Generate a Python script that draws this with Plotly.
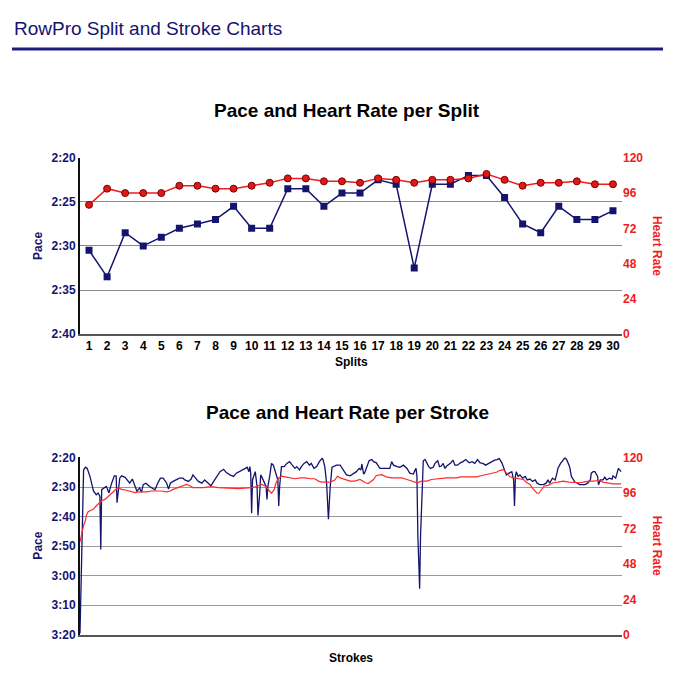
import plotly.graph_objects as go

W, H = 687, 677

# ---------------- data ----------------
splits = list(range(1, 31))
split_pace = [150.5, 153.5, 148.5, 150, 149, 148, 147.5, 147, 145.5, 148,
              148, 143.5, 143.5, 145.5, 144, 144, 142.5, 143, 152.5, 143,
              143, 142, 142, 144.5, 147.5, 148.5, 145.5, 147, 147, 146]
split_hr = [88, 99, 96, 96, 96, 101, 101, 99, 99, 101,
            103, 106, 106, 104, 104, 103, 106, 105, 103, 105,
            105, 106, 109, 105, 101, 103, 103, 104, 102, 102]

stroke_no = [1, 3, 5, 7, 9, 12, 14, 16, 19, 21, 23, 24, 25, 28, 30, 31, 33, 36, 39, 41,
             42, 45, 47, 51, 53, 56, 59, 62, 64, 67, 69, 71, 74, 78, 81, 84, 87, 90, 93, 97,
             99, 101, 104, 108, 111, 115, 117, 121, 124, 126, 129, 132, 136, 139, 143, 146, 149, 150, 153, 156,
             160, 163, 167, 171, 174, 178, 181, 184, 186, 188, 189, 190, 191, 192, 194, 195, 197, 198, 200, 201,
             202, 205, 207, 208, 209, 211, 213, 215, 218, 220, 221, 222, 224, 227, 230, 233, 236, 239, 241, 244,
             246, 249, 252, 255, 257, 260, 263, 266, 269, 270, 272, 274, 276, 278, 280, 282, 285, 289, 292, 296,
             300, 304, 307, 310, 312, 313, 315, 316, 318, 321, 324, 326, 329, 333, 337, 340, 344, 346, 348, 352,
             355, 359, 363, 366, 370, 372, 373, 374, 375, 377, 378, 380, 381, 383, 385, 387, 389, 392, 394, 397,
             399, 401, 403, 405, 407, 411, 414, 416, 419, 422, 425, 428, 432, 435, 438, 441, 444, 447, 450, 453,
             457, 460, 463, 465, 468, 470, 473, 476, 479, 481, 482, 483, 484, 486, 488, 491, 494, 496, 499, 502,
             505, 507, 510, 514, 517, 519, 521, 524, 527, 529, 530, 533, 536, 538, 540, 543, 545, 547, 549, 552,
             554, 557, 560, 563, 566, 567, 569, 571, 574, 575, 577, 580, 582, 584, 587, 590, 591, 594, 596, 597,
             600]
stroke_pace = [199.5, 166.4, 144.2, 143.3, 143.7, 146.4, 148.7, 151.4, 152.6, 152.0, 153.1, 171.1, 150.9, 150.3, 149.8, 150.3, 152.0, 148.7, 146.2, 146.2,
               155.3, 147.0, 146.2, 146.7, 147.6, 148.7, 147.3, 149.8, 151.4, 150.3, 151.8, 149.2, 148.7, 149.8, 150.3, 150.9, 148.7, 147.0, 147.0, 148.7,
               150.7, 148.7, 148.1, 147.6, 147.0, 147.0, 147.6, 148.1, 147.3, 145.9, 147.0, 148.1, 148.7, 147.6, 148.7, 149.6, 148.1, 147.6, 145.9, 144.8,
               144.0, 145.1, 145.9, 146.4, 145.3, 144.8, 144.2, 143.7, 143.3, 144.8, 143.1, 145.3, 158.9, 147.6, 145.6, 144.8, 149.8, 159.6, 152.0, 145.9,
               146.4, 148.7, 149.8, 154.2, 149.8, 146.4, 142.0, 142.6, 145.3, 147.6, 156.4, 149.8, 143.1, 143.1, 142.0, 141.4, 142.6, 143.7, 143.1, 144.2,
               143.1, 142.0, 141.4, 142.6, 142.0, 143.7, 143.1, 141.4, 140.3, 140.7, 143.1, 148.7, 160.9, 149.8, 143.3, 143.1, 142.6, 142.6, 144.2, 145.9,
               146.2, 145.3, 144.8, 143.7, 144.2, 142.2, 145.6, 145.3, 143.7, 141.1, 140.7, 141.4, 141.8, 143.7, 143.7, 143.7, 143.7, 141.4, 142.6, 143.1,
               143.3, 142.6, 143.7, 145.3, 145.6, 144.2, 143.7, 146.4, 166.4, 184.4, 166.4, 149.8, 141.1, 140.7, 142.0, 143.1, 143.7, 143.3, 142.0, 141.1,
               143.1, 142.9, 142.0, 143.7, 142.9, 142.0, 140.9, 142.6, 142.6, 141.8, 141.4, 140.7, 141.8, 141.4, 142.0, 140.7, 141.8, 142.0, 142.6, 142.0,
               141.4, 140.9, 140.7, 140.3, 141.8, 143.7, 145.9, 145.3, 144.8, 147.6, 156.4, 146.4, 144.8, 146.4, 145.9, 147.0, 146.4, 147.6, 147.3, 148.1,
               147.6, 148.7, 149.2, 149.2, 148.7, 147.6, 148.7, 147.0, 147.6, 145.3, 143.7, 142.0, 140.9, 140.0, 140.9, 143.1, 146.4, 147.6, 148.4, 148.7,
               149.2, 149.2, 149.2, 148.7, 147.6, 145.3, 144.8, 144.8, 146.4, 149.2, 147.6, 147.6, 146.7, 147.6, 147.0, 147.3, 146.2, 147.0, 144.2, 143.7,
               144.8]

hr_stroke_no = [1, 3, 5, 7, 8, 10, 13, 16, 19, 21, 25, 29, 32, 36, 40, 43, 47, 51, 55, 58,
                62, 66, 69, 75, 80, 86, 91, 97, 101, 104, 110, 115, 119, 123, 126, 132, 138, 143, 149, 154,
                160, 165, 171, 176, 182, 187, 191, 195, 198, 202, 206, 209, 213, 216, 218, 221, 224, 228, 233, 239,
                245, 250, 256, 261, 265, 269, 272, 278, 283, 286, 289, 294, 300, 305, 311, 317, 320, 326, 329, 335,
                340, 346, 352, 357, 363, 368, 374, 379, 385, 390, 396, 401, 407, 412, 418, 423, 429, 435, 440, 446,
                451, 457, 462, 466, 470, 473, 477, 481, 486, 492, 495, 499, 503, 507, 509, 512, 515, 519, 525, 530,
                536, 542, 547, 553, 558, 564, 569, 575, 580, 586, 591, 600]
stroke_hr = [62.9, 69.6, 74.0, 77.3, 80.7, 83.3, 84.0, 85.1, 87.3, 88.4, 90.7, 91.8, 93.6, 96.2, 98.0, 99.6, 98.4, 98.0, 97.3, 96.7,
             96.2, 96.7, 96.7, 96.7, 97.3, 97.3, 97.3, 96.7, 97.3, 98.4, 99.6, 100.7, 101.8, 100.7, 99.6, 99.6, 99.6, 100.2, 100.2, 99.6,
             99.6, 99.1, 99.1, 98.9, 99.1, 99.1, 99.6, 100.2, 101.1, 101.8, 100.7, 98.4, 95.8, 98.4, 102.9, 106.2, 107.3, 106.9, 106.2, 105.6,
             106.2, 106.2, 105.6, 105.6, 104.0, 103.3, 103.3, 103.3, 104.7, 107.3, 106.2, 105.1, 104.0, 104.0, 105.1, 102.9, 102.4, 105.1, 107.8, 108.4,
             106.9, 106.2, 106.2, 106.2, 105.1, 104.0, 102.9, 104.0, 104.0, 105.1, 105.6, 105.6, 106.2, 106.2, 106.2, 106.9, 106.9, 107.3, 106.9, 107.8,
             108.4, 109.1, 110.0, 111.3, 111.8, 109.6, 106.9, 106.2, 105.6, 105.1, 103.3, 101.8, 98.4, 95.8, 95.8, 98.0, 100.7, 101.1, 102.9, 103.3,
             104.0, 103.3, 102.9, 102.9, 103.3, 104.0, 104.0, 104.4, 103.3, 102.9, 102.2, 102.2]

pace_ticks_split = [140, 145, 150, 155, 160]
pace_ticks_stroke = [140, 150, 160, 170, 180, 190, 200]
hr_ticks = [0, 24, 48, 72, 96, 120]


def fmt(s):
    return f"{s // 60}:{s % 60:02d}"


def px(x):
    return x / W


def py(y):
    return 1 - y / H


NAVY = "#14146e"
RED = "#ee1c1c"
FONT = "Liberation Sans, Arial, Helvetica, sans-serif"

fig = go.Figure()
fig.add_trace(go.Scatter(x=splits, y=split_pace, xaxis="x", yaxis="y", mode="lines+markers",
                         line=dict(color=NAVY, width=1.5),
                         marker=dict(symbol="square", size=7, color=NAVY), showlegend=False))
fig.add_trace(go.Scatter(x=splits, y=split_hr, xaxis="x", yaxis="y2", mode="lines+markers",
                         line=dict(color=RED, width=1.5),
                         marker=dict(symbol="circle", size=7, color="#e01818",
                                     line=dict(color="#7a0000", width=1)), showlegend=False))
fig.add_trace(go.Scatter(x=stroke_no, y=stroke_pace, xaxis="x2", yaxis="y3", mode="lines",
                         line=dict(color=NAVY, width=1.3), showlegend=False))
fig.add_trace(go.Scatter(x=hr_stroke_no, y=stroke_hr, xaxis="x2", yaxis="y4", mode="lines",
                         line=dict(color="#ff2a2a", width=1.2), showlegend=False))

tickfont_navy = dict(family=FONT, size=12, color=NAVY, weight="bold")
tickfont_red = dict(family=FONT, size=12, color=RED, weight="bold")

fig.update_layout(
    width=W, height=H, margin=dict(l=0, r=0, t=0, b=0),
    paper_bgcolor="white", plot_bgcolor="white",
    font=dict(family=FONT),
    xaxis=dict(domain=[px(80), px(622)], anchor="y", range=[0.5, 30.5],
               tickvals=splits, ticktext=[str(s) for s in splits], ticks="",
               tickfont=dict(family=FONT, size=12, color="black", weight="bold"),
               ticklabelstandoff=0,
               showgrid=False, zeroline=False, showline=True, linecolor="#555", linewidth=2),
    yaxis=dict(domain=[py(334), py(154)], anchor="x", range=[160, 140],
               tickvals=pace_ticks_split, ticktext=[fmt(v) for v in pace_ticks_split],
               ticks="", tickfont=tickfont_navy, gridcolor="#8a8a8a", gridwidth=1,
               zeroline=False, showline=True, linecolor="#111", linewidth=2),
    yaxis2=dict(overlaying="y", side="right", anchor="x", range=[0, 120],
                tickvals=hr_ticks, ticks="", tickfont=tickfont_red,
                showgrid=False, zeroline=False, showline=False),
    xaxis2=dict(domain=[px(80), px(622)], anchor="y3", range=[1, 601],
                showticklabels=False, ticks="", showgrid=False, zeroline=False,
                showline=True, linecolor="#555", linewidth=2),
    yaxis3=dict(domain=[py(641), py(460)], anchor="x2", range=[200, 140],
                tickvals=pace_ticks_stroke, ticktext=[fmt(v) for v in pace_ticks_stroke],
                ticks="", tickfont=tickfont_navy, gridcolor="#9a9a9a", gridwidth=1,
                zeroline=False, showline=True, linecolor="#111", linewidth=2),
    yaxis4=dict(overlaying="y3", side="right", anchor="x2", range=[0, 120],
                tickvals=hr_ticks, ticks="", tickfont=tickfont_red,
                showgrid=False, zeroline=False, showline=False),
)

annotations = [
    dict(text="RowPro Split and Stroke Charts", x=px(12), y=py(22), xanchor="left", yanchor="middle",
         font=dict(family=FONT, size=19, color=NAVY)),
    dict(text="<b>Pace and Heart Rate per Split</b>", x=px(347), y=py(106), xanchor="center", yanchor="middle",
         font=dict(family=FONT, size=19, color="black")),
    dict(text="<b>Pace and Heart Rate per Stroke</b>", x=px(347), y=py(414), xanchor="center", yanchor="middle",
         font=dict(family=FONT, size=19, color="black")),
    dict(text="<b>Pace</b>", x=px(38), y=py(244), textangle=-90, xanchor="center", yanchor="middle",
         font=dict(family=FONT, size=12, color=NAVY)),
    dict(text="<b>Heart Rate</b>", x=px(657), y=py(244), textangle=90, xanchor="center", yanchor="middle",
         font=dict(family=FONT, size=12, color=RED)),
    dict(text="<b>Splits</b>", x=px(351), y=py(362), xanchor="center", yanchor="middle",
         font=dict(family=FONT, size=12, color="black")),
    dict(text="<b>Pace</b>", x=px(38), y=py(550), textangle=-90, xanchor="center", yanchor="middle",
         font=dict(family=FONT, size=12, color=NAVY)),
    dict(text="<b>Heart Rate</b>", x=px(657), y=py(550), textangle=90, xanchor="center", yanchor="middle",
         font=dict(family=FONT, size=12, color=RED)),
    dict(text="<b>Strokes</b>", x=px(351), y=py(665), xanchor="center", yanchor="middle",
         font=dict(family=FONT, size=12, color="black")),
]
for a in annotations:
    a.update(xref="paper", yref="paper", showarrow=False)
fig.update_layout(annotations=annotations)

fig.add_shape(type="line", xref="paper", yref="paper", x0=px(12), x1=px(663), y0=py(43), y1=py(43),
              line=dict(color="#1c1c80", width=3))

fig.write_html("out.html", config={"displayModeBar": False},
               post_script="document.body.style.margin='0';document.body.style.overflow='hidden';")
